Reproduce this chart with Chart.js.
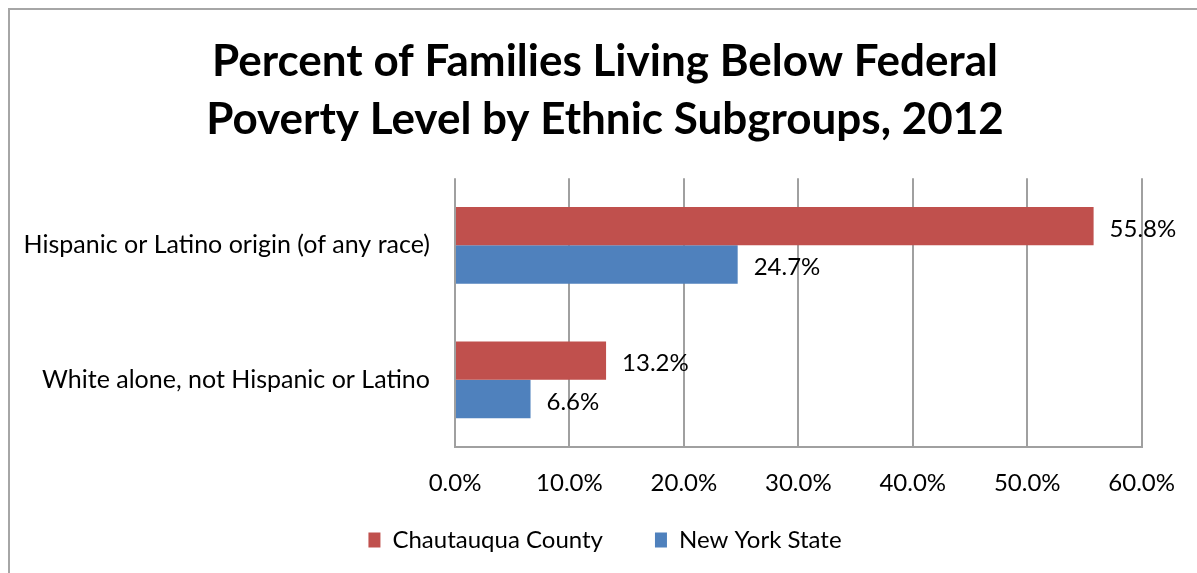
<!DOCTYPE html>
<html>
<head>
<meta charset="utf-8">
<script src="https://cdn.jsdelivr.net/npm/chart.js@4"></script>
<style>
  html, body { margin: 0; padding: 0; background: #fff; overflow: hidden; }
  #frame { position: absolute; left: 8px; top: 8px; width: 1300px; height: 700px; border-left: 2px solid #a6a6a6; border-top: 2px solid #a6a6a6; }
  #wrap { position: absolute; left: 0; top: 0; width: 1197px; height: 573px; }
</style>
</head>
<body>
<div id="frame"></div>
<div id="wrap"><canvas id="chart" width="1197" height="573"></canvas></div>
<script>
  'use strict';

  // Chart data.
  var categories = ['Hispanic or Latino origin (of any race)', 'White alone, not Hispanic or Latino'];
  var chautauquaValues = [55.8, 13.2];
  var newYorkValues = [24.7, 6.6];
  var seriesNames = ['Chautauqua County', 'New York State'];
  var titleLines = ['Percent of Families Living Below Federal', 'Poverty Level by Ethnic Subgroups, 2012'];

  var fontFamily = 'Lato, "Open Sans", sans-serif';

  /**
   * Writes the value next to the end of each bar.
   */
  var valueLabels = {
    id: 'valueLabels',
    afterDatasetsDraw: function (chart) {
      var ctx = chart.ctx;
      ctx.save();
      ctx.font = '24px ' + fontFamily;
      ctx.fillStyle = '#000';
      ctx.textAlign = 'left';
      ctx.textBaseline = 'middle';
      chart.data.datasets.forEach(function (ds, i) {
        chart.getDatasetMeta(i).data.forEach(function (bar, j) {
          ctx.fillText(ds.data[j].toFixed(1) + '%', bar.x + 16, bar.y + 3);
        });
      });
      ctx.restore();
    }
  };

  /**
   * Widens the label clip areas of the axes, so that long labels may run
   * into the layout padding.
   */
  var looseLabels = {
    id: 'looseLabels',
    afterLayout: function (chart) {
      chart.scales.y.left = 0;
      chart.scales.x.bottom = chart.height;
    }
  };

  var ctx = document.getElementById('chart').getContext('2d');
  new Chart(ctx, {
    type: 'bar',
    data: {
      labels: categories,
      datasets: [
        {
          label: seriesNames[0],
          data: chautauquaValues,
          backgroundColor: '#C0504D',
          categoryPercentage: 0.571,
          barPercentage: 1
        },
        {
          label: seriesNames[1],
          data: newYorkValues,
          backgroundColor: '#4F81BD',
          categoryPercentage: 0.571,
          barPercentage: 1
        }
      ]
    },
    options: {
      indexAxis: 'y',
      responsive: false,
      animation: false,
      // Left/right padding offset so the title and legend centre near x=605.
      layout: { padding: { left: 67, right: 54, top: 0, bottom: 11 } },
      plugins: {
        title: {
          display: true,
          text: titleLines,
          color: '#000',
          font: { family: fontFamily, size: 44, weight: 'bold', lineHeight: 1.32 },
          padding: { top: 33, bottom: 29 }
        },
        legend: {
          position: 'bottom',
          labels: {
            color: '#000',
            font: { family: fontFamily, size: 24 },
            boxWidth: 12,
            boxHeight: 15,
            padding: 52
          }
        },
        tooltip: { enabled: false }
      },
      scales: {
        x: {
          min: 0,
          max: 60,
          afterFit: function (scale) { scale.height = 29; },
          ticks: {
            stepSize: 10,
            color: '#000',
            padding: 22,
            font: { family: fontFamily, size: 24 },
            callback: function (v) { return v.toFixed(1) + '%'; }
          },
          grid: { color: '#a0a0a0', lineWidth: 2, drawTicks: false },
          border: { display: true, color: '#a0a0a0', width: 2 }
        },
        y: {
          afterFit: function (scale) { scale.width = 388; },
          ticks: {
            color: '#000',
            padding: 25,
            font: { family: fontFamily, size: 25 }
          },
          grid: { display: false, drawTicks: false },
          border: { display: false }
        }
      }
    },
    plugins: [valueLabels, looseLabels]
  });
</script>
</body>
</html>
